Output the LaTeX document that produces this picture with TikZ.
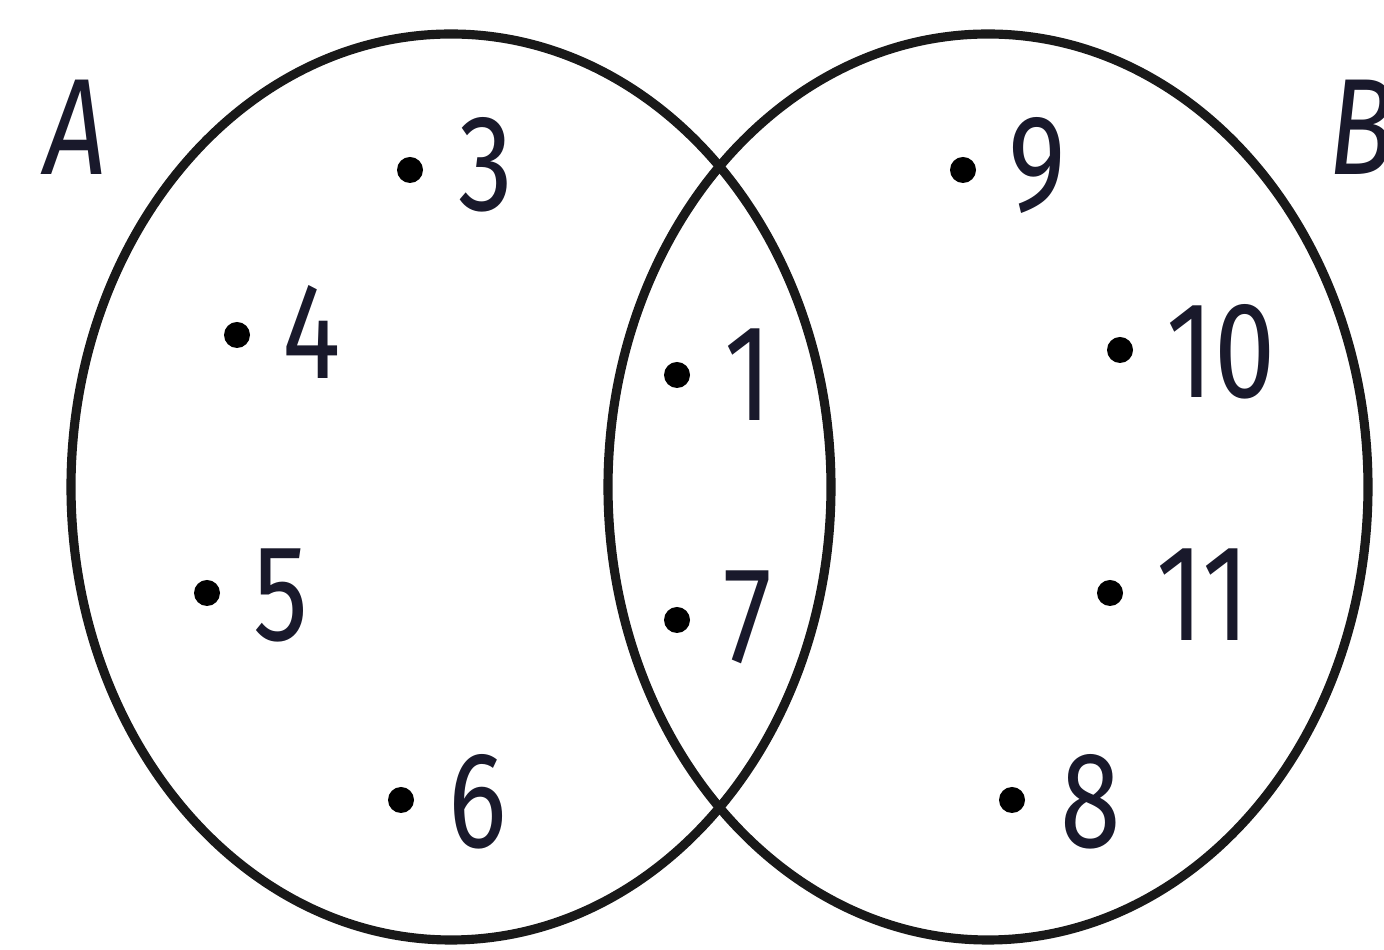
\documentclass[tikz,border=0pt]{standalone}
\usepackage{fontspec}
\setmainfont{Fira Sans}[FakeStretch=0.8]
\definecolor{textdark}{rgb}{0.1,0.1,0.17}
\tikzset{
  num/.style={anchor=west,inner sep=0pt,text=textdark,font=\fontsize{39}{40}\selectfont},
  setname/.style={num,font=\fontsize{39}{40}\selectfont\itshape},
  ring/.style={line width=2.6pt,black!90}
}

\begin{document}
\begin{tikzpicture}[x=0.1mm,y=-0.1mm]
\useasboundingbox (0,0) rectangle (1384,950);
\def\rx{380}
\def\ry{453}
\def\d{13}
\coordinate (MA) at (451,487);
\coordinate (MB) at (988,487);
% draw the two sets
\draw[ring] (MA) ellipse ({\rx} and {\ry});
\draw[ring] (MB) ellipse ({\rx} and {\ry});
% set names
\node[setname] (nA) at (44,127) {A};
\node[setname] (nB) at (1328,127) {B};
% elements only in A
\coordinate (p3) at (410,170);
\coordinate (p4) at (237,335);
\coordinate (p5) at (207,593);
\coordinate (p6) at (401,800);
% elements in A and B
\coordinate (p1) at (677,375);
\coordinate (p7) at (677,620);
% elements only in B
\coordinate (p9) at (963,170);
\coordinate (p10) at (1120,350);
\coordinate (p11) at (1110,593);
\coordinate (p8) at (1012,800);
% dots
\foreach \p in {p3,p4,p5,p6,p1,p7,p9,p10,p11,p8}
  \fill (\p) circle (\d);
% element names
\node[num] (t3) at (458,165) {3};
\node[num] (t4) at (282,332) {4};
\node[num] (t5) at (253,595) {5};
\node[num] (t6) at (448,802) {6};
\node[num] (t1) at (724,375) {1};
\node[num] (t7) at (723,617) {7};
\node[num] (t9) at (1008,165) {9};
\node[num] (t10) at (1166,352) {10};
\node[num] (t11) at (1156,595) {11};
\node[num] (t8) at (1060,802) {8};
\end{tikzpicture}
\end{document}
